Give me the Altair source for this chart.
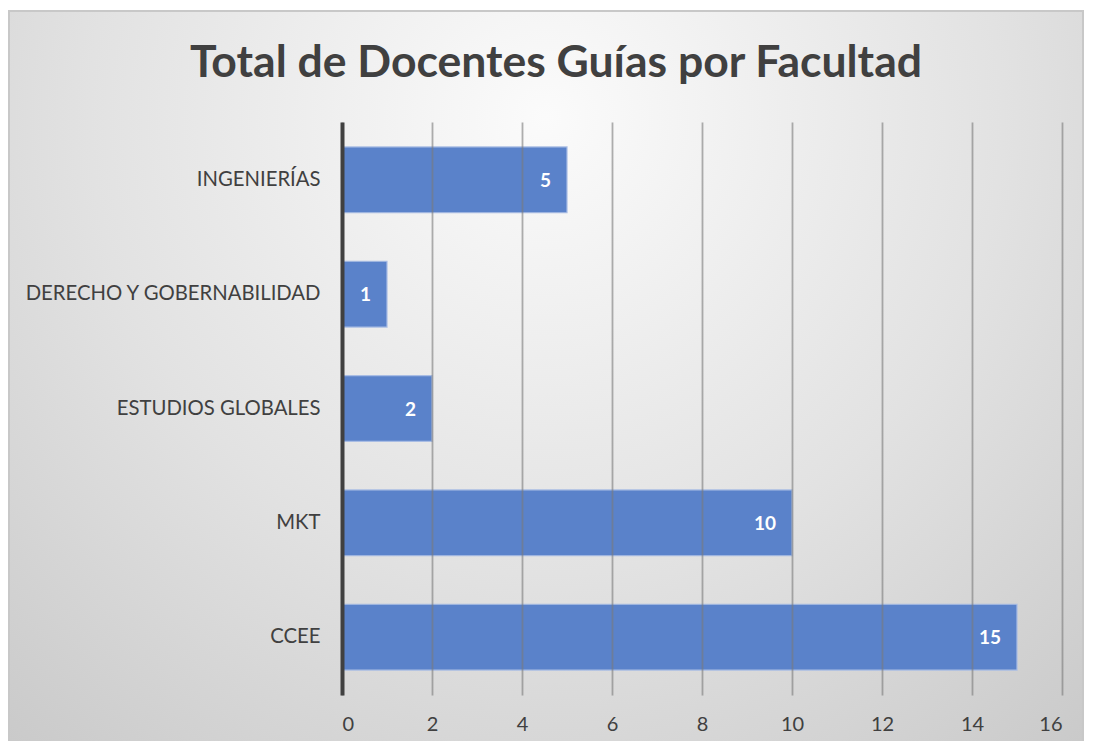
import altair as alt
import pandas as pd

categories = ["INGENIERÍAS", "DERECHO Y GOBERNABILIDAD", "ESTUDIOS GLOBALES", "MKT", "CCEE"]
values = [5, 1, 2, 10, 15]
x_ticks = [0, 2, 4, 6, 8, 10, 12, 14, 16]
title_text = "Total de Docentes Guías por Facultad"

df = pd.DataFrame({"facultad": categories, "total": values})

W, H = 720, 573
PAD_L, PAD_T, PAD_R, PAD_B = 334, 114, 23, 46

bg = alt.Chart(alt.Data(values=[{}])).mark_rect(
    fill={
        "gradient": "radial",
        "x1": 0.5, "y1": 0.25, "r1": 0.0,
        "x2": 0.5, "y2": 0.25, "r2": 0.85,
        "stops": [
            {"offset": 0.0, "color": "#fbfbfb"},
            {"offset": 0.5, "color": "#e2e2e2"},
            {"offset": 1.0, "color": "#c4c4c4"},
        ],
    },
    stroke="#c8c8c8",
    strokeWidth=2,
).encode(
    x=alt.value(-PAD_L + 1),
    x2=alt.value(W + PAD_R - 2),
    y=alt.value(-PAD_T + 3),
    y2=alt.value(H + PAD_B + 20),
)

y_enc = alt.Y(
    "facultad:N",
    sort=categories,
    scale=alt.Scale(paddingInner=0.424, paddingOuter=0.218),
    axis=alt.Axis(
        title=None, ticks=False, grid=False, domain=True,
        domainColor="#404040", domainWidth=4,
        labelFont="Lato", labelFontSize=20.3, labelColor="#404040",
        labelPadding=22, labelLimit=400, zindex=2,
    ),
)
x_enc = alt.X(
    "total:Q",
    scale=alt.Scale(domain=[0, 16], nice=False),
    axis=alt.Axis(
        title=None, values=x_ticks, ticks=False, domain=False,
        grid=True, gridColor="#7a7a7a", gridOpacity=0.6, gridWidth=1.8,
        labelFont="Lato", labelFontSize=20, labelColor="#404040",
        labelPadding=19, zindex=1,
    ),
)

bars = alt.Chart(df).mark_bar(
    color="#5a82ca", stroke="#a9bde4", strokeWidth=1.2,
).encode(x=x_enc, y=y_enc)

labels = alt.Chart(df).mark_text(
    align="right", baseline="middle", dx=-16, dy=1,
    color="white", font="Lato", fontWeight="bold", fontSize=19,
).encode(x="total:Q", y=alt.Y("facultad:N", sort=categories), text="total:Q")

chart = alt.layer(bg, bars, labels).properties(
    width=W, height=H,
    title=alt.TitleParams(
        title_text, font="Lato", fontSize=44.5, fontWeight="bold",
        color="#404040", anchor="middle", dx=-146, offset=-76,
    ),
    autosize=alt.AutoSizeParams(type="none"),
    padding={"left": PAD_L, "top": PAD_T, "right": PAD_R, "bottom": PAD_B},
).configure_view(strokeWidth=0).configure(background="white")

chart.save("out.html", embed_options={"renderer": "svg", "actions": False})
